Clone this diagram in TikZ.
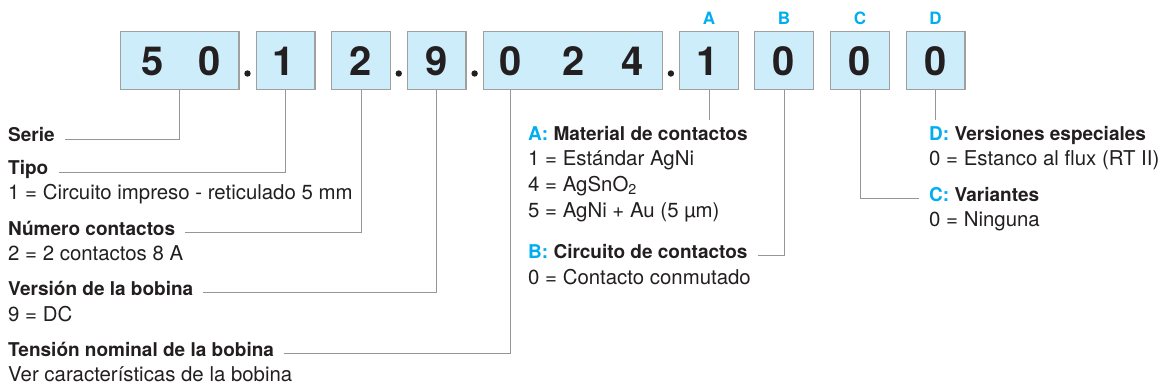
\documentclass[tikz,border=0pt]{standalone}
\usepackage{fontspec}
\setmainfont{TeX Gyre Heros}
\usetikzlibrary{positioning,calc}
\definecolor{boxfill}{RGB}{206,237,250}
\definecolor{boxline}{RGB}{160,160,160}
\definecolor{linegray}{RGB}{150,150,150}
\definecolor{ink}{RGB}{35,31,32}
\definecolor{cyanA}{RGB}{0,174,239}
\tikzset{
  cell/.style={draw=boxline,line width=1.2pt,fill=boxfill,minimum height=58pt,inner sep=0pt},
  digit/.style={anchor=base,inner sep=0pt,text=ink,font=\fontsize{40}{40}\selectfont\bfseries},
  letter/.style={inner sep=0pt,text=cyanA,font=\fontsize{17}{17}\selectfont\bfseries},
  head/.style={anchor=base west,inner sep=0pt,text=ink,font=\fontsize{19}{19}\selectfont\bfseries},
  value/.style={anchor=base west,inner sep=0pt,text=ink,font=\fontsize{20.4}{20.4}\selectfont},
  link/.style={draw=linegray,line width=0.9pt,shorten >=10pt},
}
\begin{document}
\begin{tikzpicture}[x=1pt,y=-1pt]
\useasboundingbox (0,0) rectangle (1158,390);
% code boxes
\foreach \n/\x/\w in {b50/179.5/120,b1/285.5/60,b2/361/60,b9/436.5/60,b024/572.75/180,bA/709/60,bB/784/60,bC/860/60,bD/935.5/60} {
  \node[cell,minimum width=\w-1.2] (\n) at (\x,60.5) {};
}
\foreach \x/\d [count=\k] in {153/5,209.5/0,284/1,360.7/2,436.7/9,510.7/0,573.3/2,632.5/4,707.5/1,783.8/0,860/0,936/0} {
  \node[digit] (d\k) at (\x,76) {\d};
}
\foreach \p/\q in {b50/b1,b2/b9,b9/b024,b024/bA} {
  \fill[ink] ($(\p.east)!.5!(\q.west)$) ++(0,13) circle (3.2pt);
}
\node[letter,above=6pt of bA] (la) {A};
\node[letter,above=6pt of bB] (lb) {B};
\node[letter,above=6pt of bC] (lc) {C};
\node[letter,above=6pt of bD] (ld) {D};

% left column
\node[head] (serie) at (8,142) {Serie};
\node[head] (tipo) at (8,175) {Tipo};
\node[value] (tipov) at (8,200) {1 = Circuito impreso - reticulado 5 mm};
\node[head] (numero) at (8,235) {Número contactos};
\node[value] (numerov) at (8,260.5) {2 = 2 contactos 8 A};
\node[head] (version) at (8,295.5) {Versión de la bobina};
\node[value] (versionv) at (8,321) {9 = DC};
\node[head] (tension) at (8,356) {Tensión nominal de la bobina};
\node[value] (tensionv) at (8,381) {Ver características de la bobina};

% A, B
\node[head] (matA) at (528,141) {\textcolor{cyanA}{A:} Material de contactos};
\node[value] (matA1) at (528,166) {1 = Estándar AgNi};
\node[value] (matA4) at (528,191.5) {4 = AgSnO\textsubscript{2}};
\node[value] (matA5) at (528,217) {5 = AgNi + Au (5 µm)};
\node[head] (circB) at (528,258) {\textcolor{cyanA}{B:} Circuito de contactos};
\node[value] (circB0) at (528,284) {0 = Contacto conmutado};

% C, D
\node[head] (verD) at (929,141) {\textcolor{cyanA}{D:} Versiones especiales};
\node[value] (verD0) at (929,166) {0 = Estanco al flux (RT II)};
\node[head] (varC) at (929,201) {\textcolor{cyanA}{C:} Variantes};
\node[value] (varC0) at (929,226) {0 = Ninguna};

\draw[link] (b50.south) |- (serie.mid east);
\draw[link] (b1.south) |- (tipo.mid east);
\draw[link] (b2.south) |- (numero.mid east);
\draw[link] (b9.south) |- (version.mid east);
\draw[link] (d6 |- b024.south) |- (tension.mid east);
\draw[link,shorten >=7pt] (bA.south) -- (bA.south |- matA.north);
\draw[link] (bB.south) |- (circB.mid east);
\draw[link] (bC.south) |- (varC.mid west);
\draw[link,shorten >=7pt] (bD.south) -- (bD.south |- verD.north);
\end{tikzpicture}
\end{document}
